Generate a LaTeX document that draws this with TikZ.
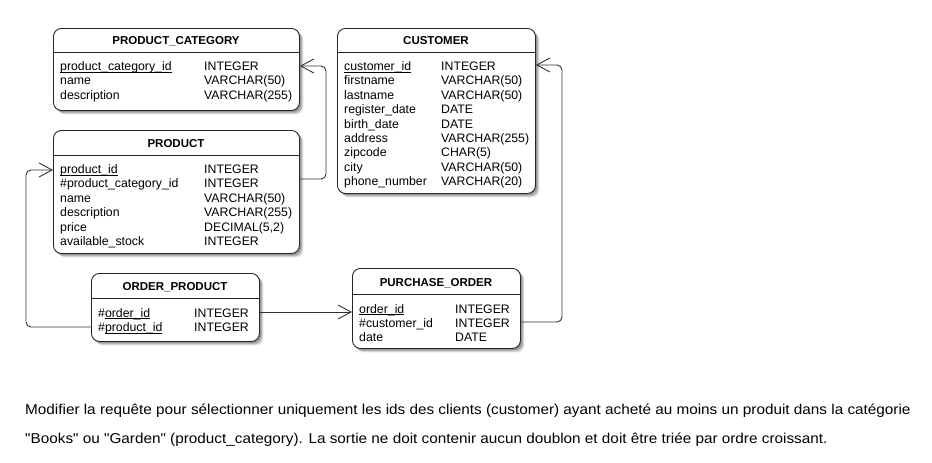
\documentclass[tikz,border=0pt]{standalone}
\usepackage{fontspec}
\setmainfont{Liberation Sans}[Ligatures=TeXOff]
\usetikzlibrary{arrows.meta,shadows,calc}
\newcommand\keyul[1]{\setbox0\hbox{#1}\rlap{\rule[-2.1pt]{\wd0}{0.75pt}}\box0}
\tikzset{
  entity/.style={draw=black!85, line width=0.9pt, fill=white, rounded corners=8pt,
    anchor=north west, inner sep=0pt,
    general shadow={shadow xshift=4pt, shadow yshift=-4pt, opacity=0.12, fill=black},
    general shadow={shadow xshift=3pt, shadow yshift=-3pt, opacity=0.15, fill=black},
    general shadow={shadow xshift=1.8pt, shadow yshift=-1.8pt, opacity=0.2, fill=black}},
  etitle/.style={font=\fontsize{11.5}{13}\selectfont\bfseries, inner sep=0pt, anchor=base},
  fld/.style={font=\fontsize{12.3}{14}\selectfont, inner sep=0pt, anchor=base west},
  sep/.style={draw=black!85, line width=0.8pt},
  rel/.style={draw=black!80, line width=0.9pt, rounded corners=5pt,
    -{Straight Barb[length=13pt,width=14pt,line width=0.9pt]}},
  para/.style={font=\fontsize{14.3}{16}\selectfont, inner sep=0pt, anchor=base west}
}
\begin{document}
\begin{tikzpicture}[x=1pt,y=-1pt]
\useasboundingbox[fill=white] (0,0) rectangle (932,463);

% ---------- PRODUCT_CATEGORY
\node[entity, minimum width=246pt, minimum height=82pt] (pc) at (53,28) {};
\draw[sep] (pc.west |- 0,52) -- (pc.east |- 0,52);
\node[etitle] (pct) at (176,44) {PRODUCT\_CATEGORY};
\node[fld] (pc1) at (60,70.5) {\keyul{product\_category\_id}};
\node[fld] (pc2) at (60,84.9) {name};
\node[fld] (pc3) at (60,99.3) {description};
\node[fld] (pc1t) at (204,70.5) {INTEGER};
\node[fld] (pc2t) at (204,84.9) {VARCHAR(50)};
\node[fld] (pc3t) at (204,99.3) {VARCHAR(255)};

% ---------- PRODUCT
\node[entity, minimum width=246pt, minimum height=123pt] (pr) at (53,130) {};
\draw[sep] (pr.west |- 0,155) -- (pr.east |- 0,155);
\node[etitle] (prt) at (176,147) {PRODUCT};
\node[fld] (pr1) at (60,173.5) {\keyul{product\_id}};
\node[fld] (pr2) at (60,187.9) {\#product\_category\_id};
\node[fld] (pr3) at (60,202.3) {name};
\node[fld] (pr4) at (60,216.7) {description};
\node[fld] (pr5) at (60,231.1) {price};
\node[fld] (pr6) at (60,245.5) {available\_stock};
\node[fld] (pr1t) at (204,173.5) {INTEGER};
\node[fld] (pr2t) at (204,187.9) {INTEGER};
\node[fld] (pr3t) at (204,202.3) {VARCHAR(50)};
\node[fld] (pr4t) at (204,216.7) {VARCHAR(255)};
\node[fld] (pr5t) at (204,231.1) {DECIMAL(5,2)};
\node[fld] (pr6t) at (204,245.5) {INTEGER};

% ---------- CUSTOMER
\node[entity, minimum width=198pt, minimum height=165pt] (cu) at (337,28) {};
\draw[sep] (cu.west |- 0,52) -- (cu.east |- 0,52);
\node[etitle] (cut) at (436,44) {CUSTOMER};
\node[fld] (cu1) at (344,70.5) {\keyul{customer\_id}};
\node[fld] (cu2) at (344,84.9) {firstname};
\node[fld] (cu3) at (344,99.3) {lastname};
\node[fld] (cu4) at (344,113.7) {register\_date};
\node[fld] (cu5) at (344,128.1) {birth\_date};
\node[fld] (cu6) at (344,142.5) {address};
\node[fld] (cu7) at (344,156.9) {zipcode};
\node[fld] (cu8) at (344,171.3) {city};
\node[fld] (cu9) at (344,185.7) {phone\_number};
\node[fld] (cu1t) at (441,70.5) {INTEGER};
\node[fld] (cu2t) at (441,84.9) {VARCHAR(50)};
\node[fld] (cu3t) at (441,99.3) {VARCHAR(50)};
\node[fld] (cu4t) at (441,113.7) {DATE};
\node[fld] (cu5t) at (441,128.1) {DATE};
\node[fld] (cu6t) at (441,142.5) {VARCHAR(255)};
\node[fld] (cu7t) at (441,156.9) {CHAR(5)};
\node[fld] (cu8t) at (441,171.3) {VARCHAR(50)};
\node[fld] (cu9t) at (441,185.7) {VARCHAR(20)};

% ---------- ORDER_PRODUCT
\node[entity, minimum width=168pt, minimum height=68pt] (op) at (91,273) {};
\draw[sep] (op.west |- 0,298) -- (op.east |- 0,298);
\node[etitle] (opt) at (175,290) {ORDER\_PRODUCT};
\node[fld] (op1) at (98,317) {\#\keyul{order\_id}};
\node[fld] (op2) at (98,331.4) {\#\keyul{product\_id}};
\node[fld] (op1t) at (194,317) {INTEGER};
\node[fld] (op2t) at (194,331.4) {INTEGER};

% ---------- PURCHASE_ORDER
\node[entity, minimum width=168pt, minimum height=80pt] (po) at (352,268) {};
\draw[sep] (po.west |- 0,294) -- (po.east |- 0,294);
\node[etitle] (pot) at (436,286) {PURCHASE\_ORDER};
\node[fld] (po1) at (359,313) {\keyul{order\_id}};
\node[fld] (po2) at (359,327.4) {\#customer\_id};
\node[fld] (po3) at (359,341.8) {date};
\node[fld] (po1t) at (455,313) {INTEGER};
\node[fld] (po2t) at (455,327.4) {INTEGER};
\node[fld] (po3t) at (455,341.8) {DATE};

% ---------- relations
\coordinate (k1) at (326,0);
\coordinate (k2) at (26,0);
\coordinate (k3) at (562,0);
\draw[rel] (pr.east |- 0,179) -- (k1 |- 0,179) -- (k1 |- 0,66) -- (pc.east |- 0,66);
\draw[rel] (op.west |- 0,327) -- (k2 |- 0,327) -- (k2 |- 0,170) -- (pr.west |- 0,170);
\draw[rel] (op.east |- 0,312) -- (po.west |- 0,312);
\draw[rel] (po.east |- 0,322) -- (k3 |- 0,322) -- (k3 |- 0,65) -- (cu.east |- 0,65);

% ---------- question text
\node[para] (q1) at (25,414) {\scalebox{1.07}[1]{Modifier la requête pour sélectionner uniquement les ids des clients (customer) ayant acheté au moins un produit dans la catégorie}};
\node[para] (q2) at (25,443) {\scalebox{1.07}[1]{"Books" ou "Garden" (product\_category). La sortie ne doit contenir aucun doublon et doit être triée par ordre croissant.}};
\end{tikzpicture}
\end{document}
